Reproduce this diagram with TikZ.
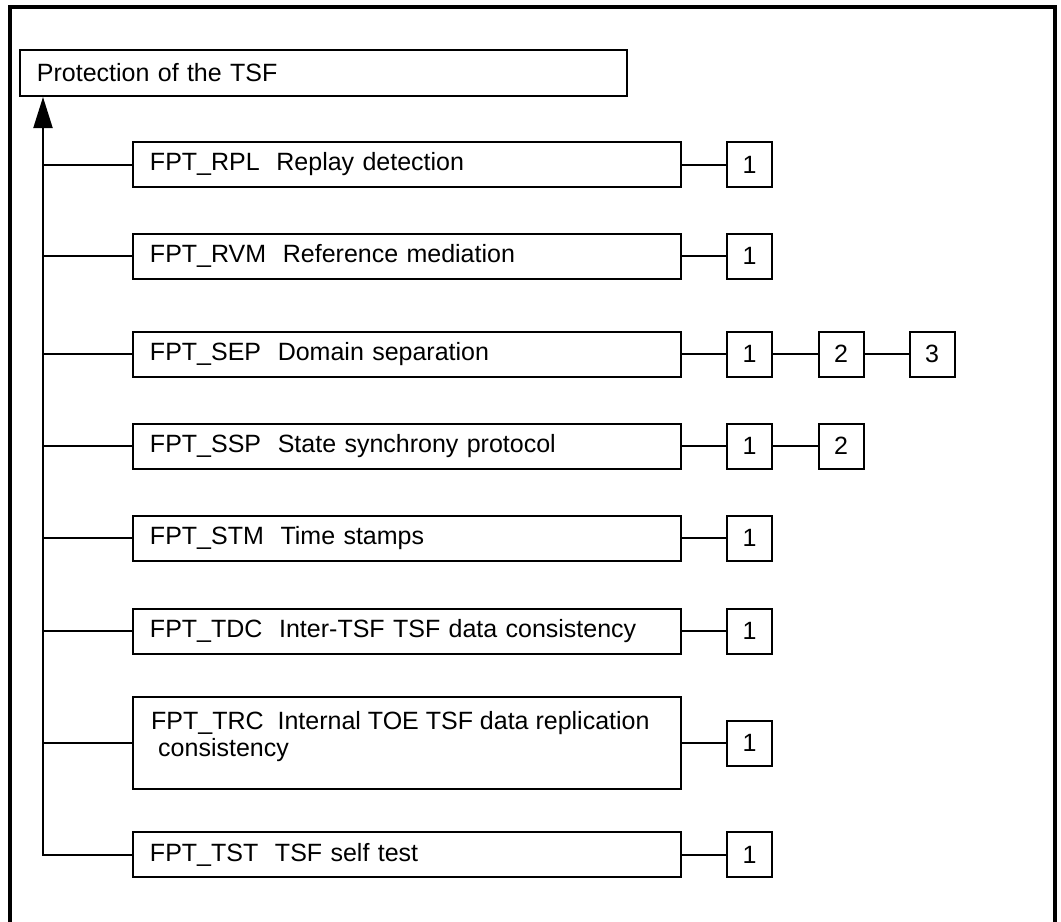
\documentclass[tikz,border=0pt]{standalone}
\usepackage{fontspec}
\setmainfont{Liberation Sans}
\usetikzlibrary{arrows.meta}
\begin{document}
\begin{tikzpicture}[x=1bp,y=-1bp,
  font=\fontsize{25bp}{28bp}\selectfont,
  thin line/.style={line width=2bp},
  frame line/.style={line width=3.5bp},
  mainbox/.style={draw, line width=2bp, minimum width=548bp, minimum height=45bp,
    text width=514bp, inner xsep=17bp, align=left},
  numbox/.style={draw, line width=2bp, minimum width=45bp, minimum height=45bp, inner sep=0pt},
  titlebox/.style={draw, line width=2bp, minimum width=607bp, minimum height=46bp,
    text width=573bp, inner xsep=17bp, align=left},
  plain/.style={inner sep=0pt}
]
\useasboundingbox (0,0) rectangle (1061,922);
\begin{scope}
\clip (0,0) rectangle (1061,922);
\draw[frame line] (10,930) -- (10,7) -- (1055,7) -- (1055,930);
\end{scope}

% title
\node[titlebox] (title) at (323.5,73) {Protection of the TSF};

% main boxes
\node[mainbox] (rpl) at (407,164.5) {FPT\_RPL\ \ Replay detection};
\node[mainbox] (rvm) at (407,256) {FPT\_RVM\ \ Reference mediation};
\node[mainbox] (sep) at (407,354) {FPT\_SEP\ \ Domain separation};
\node[mainbox] (ssp) at (407,446) {FPT\_SSP\ \ State synchrony protocol};
\node[mainbox] (stm) at (407,538) {FPT\_STM\ \ Time stamps};
\node[mainbox] (tdc) at (407,631) {FPT\_TDC\ \ Inter-TSF TSF data consistency};
\node[draw, line width=2bp, minimum width=548bp, minimum height=92bp, inner sep=0pt] (trc) at (407,742.5) {};
\node[plain, anchor=base west] (trct1) at (151,729) {FPT\_TRC\ \ Internal TOE TSF data replication};
\node[plain, anchor=base west] (trct2) at (151,756) {\hspace*{7bp}consistency};
\node[mainbox] (tst) at (407,854.5) {FPT\_TST\ \ TSF self test};

% number boxes
\node[numbox] (rpl1) at (749.5,164.5) {1};
\node[numbox] (rvm1) at (749.5,256) {1};
\node[numbox] (sep1) at (749.5,354) {1};
\node[numbox] (sep2) at (841,354) {2};
\node[numbox] (sep3) at (932,354) {3};
\node[numbox] (ssp1) at (749.5,446) {1};
\node[numbox] (ssp2) at (841,446) {2};
\node[numbox] (stm1) at (749.5,538) {1};
\node[numbox] (tdc1) at (749.5,631) {1};
\node[numbox] (trc1) at (749.5,743) {1};
\node[numbox] (tst1) at (749.5,854.5) {1};

% trunk
\coordinate (tb) at (43,854.5);
\draw[thin line, -{Triangle[length=31bp,width=19bp]}] (tst.west) -- (tb) -- (tb |- title.south);
\foreach \b in {rpl,rvm,sep,ssp,stm,tdc}{
  \draw[thin line] (\b.west) -- (\b.west -| tb);
}
\draw[thin line] (trc.west |- trc1) -- (tb |- trc1);

% right connectors
\foreach \a/\c in {rpl/rpl1,rvm/rvm1,sep/sep1,sep1/sep2,sep2/sep3,ssp/ssp1,ssp1/ssp2,stm/stm1,tdc/tdc1,tst/tst1}{
  \draw[thin line] (\a.east) -- (\c.west);
}
\draw[thin line] (trc.east |- trc1) -- (trc1.west);
\end{tikzpicture}
\end{document}
